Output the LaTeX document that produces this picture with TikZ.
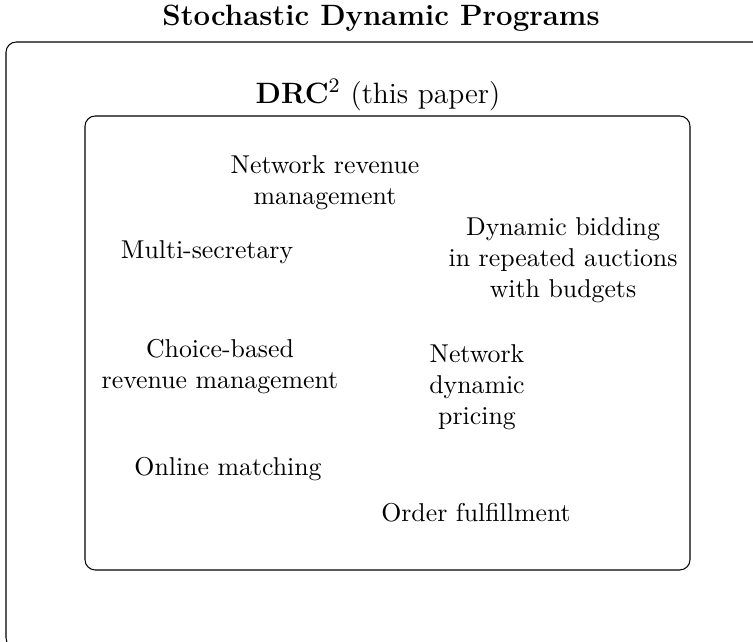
\documentclass[tikz,border=0pt]{standalone}
\usepackage{tikz}

\begin{document}
\begin{tikzpicture}[x=0.3876pt, y=-0.3876pt,
    topic/.style={align=center, inner sep=0pt},
    heading/.style={inner sep=0pt, font=\fontsize{11.4}{13}\selectfont}]
    \useasboundingbox (0,0) rectangle (753,642);
    \clip (0,0) rectangle (753,642);

    % Boxes
    \draw[rounded corners] (6,42) rectangle (770,648);
    \draw[rounded corners] (85,116) rectangle (690,570);

    % Headings
    \node[heading] (sdp) at (381,18) {\textbf{Stochastic Dynamic Programs}};
    \node[heading] (drc) at (378,95) {\textbf{DRC}$^2$ (this paper)};

    % Problems
    \node[topic] (nrm) at (325,183) {Network revenue\\management};
    \node[topic] (msec) at (207,252) {Multi-secretary};
    \node[topic] (bid) at (563,260) {Dynamic bidding\\in repeated auctions\\with budgets};
    \node[topic] (choice) at (220,367) {Choice-based\\revenue management};
    \node[topic] (ndp) at (477,387) {Network\\dynamic\\pricing};
    \node[topic] (match) at (228,469) {Online matching};
    \node[topic] (order) at (476,513) {Order fulfillment};
\end{tikzpicture}
\end{document}
